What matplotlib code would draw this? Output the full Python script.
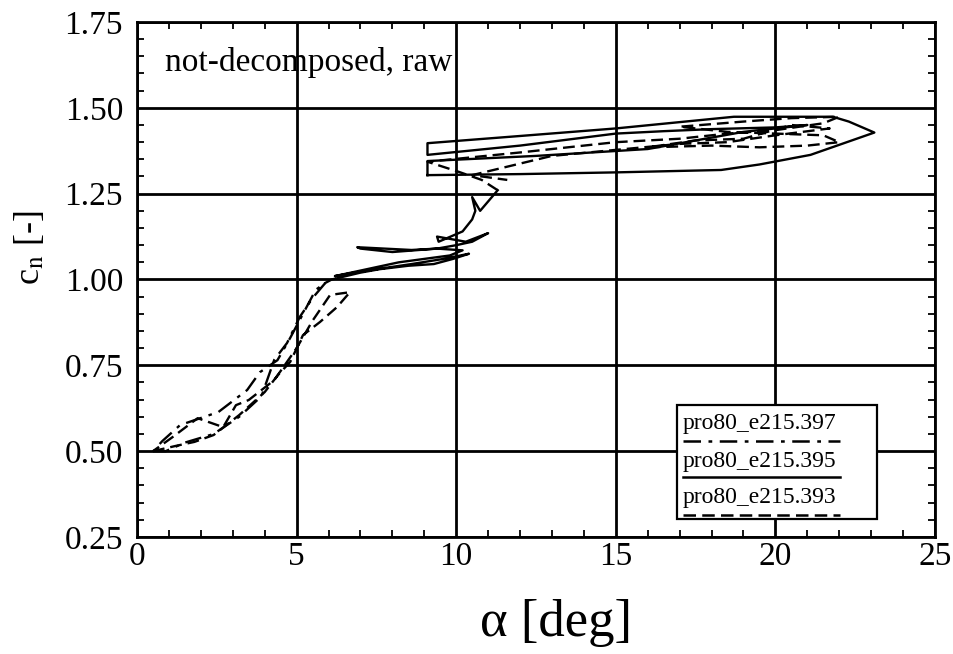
import matplotlib
matplotlib.use("Agg")
import matplotlib.pyplot as plt
from matplotlib.ticker import MultipleLocator
from matplotlib.lines import Line2D
from matplotlib.patches import Rectangle

plt.rcParams['font.family'] = ['Liberation Serif', 'DejaVu Serif']
plt.rcParams['mathtext.fontset'] = 'stix'

# ---- data ----
# pro80_e215.397 (dash-dot), low-angle loop
alpha_397 = [0.5, 0.9, 1.5, 2.4, 3.2, 3.9, 4.3, 4.7, 5.1, 5.5, 5.9,
             5.6, 5.2, 4.8, 4.4, 3.85, 3.45, 2.55, 1.35, 0.8, 0.6]
cn_397 = [0.50, 0.50, 0.525, 0.55, 0.60, 0.66, 0.766, 0.815, 0.891, 0.946, 0.99,
          0.97, 0.90, 0.83, 0.765, 0.73, 0.678, 0.614, 0.576, 0.53, 0.51]

# pro80_e215.395 (solid), mid-angle loops
alpha_395 = [5.9, 6.1, 7.0, 7.6, 8.5, 9.3, 9.9, 10.4, 9.6, 8.6, 7.5, 6.8, 6.2,
             7.2, 8.2, 9.0, 9.8, 10.2, 9.4, 8.0, 7.0, 6.9, 8.6, 9.4, 10.0,
             10.5, 11.0, 10.3, 9.4, 9.45, 10.2, 10.5, 10.6, 10.5, 10.75, 11.3]
cn_395 = [0.99, 1.00, 1.02, 1.03, 1.04, 1.045, 1.06, 1.075, 1.06, 1.045, 1.03, 1.02, 1.01,
          1.03, 1.05, 1.06, 1.07, 1.085, 1.09, 1.08, 1.09, 1.094, 1.086, 1.09, 1.10,
          1.11, 1.135, 1.11, 1.125, 1.11, 1.14, 1.175, 1.20, 1.24, 1.20, 1.26]
# pro80_e215.395 (solid), post-stall loop
alpha_395_hi = [9.1, 12.0, 15.0, 18.3, 19.5, 21.1, 23.1, 22.3, 21.8, 18.7, 15.0, 12.0,
                9.1, 9.1, 12.0, 15.0, 16.5, 18.0, 20.0, 21.0, 19.0, 16.0, 12.5, 9.1, 9.1]
cn_395_hi = [1.304, 1.307, 1.312, 1.319, 1.335, 1.363, 1.428, 1.46, 1.474, 1.474, 1.44, 1.418,
             1.397, 1.363, 1.39, 1.425, 1.432, 1.438, 1.443, 1.45, 1.43, 1.38, 1.36, 1.345, 1.304]

# pro80_e215.393 (dashed), low-angle loop
alpha_393 = [0.5, 1.2, 1.8, 2.4, 3.2, 4.0, 4.4, 4.8, 5.2, 5.73, 6.27, 6.67,
             6.05, 5.5, 5.0, 4.3, 3.5, 3.1, 2.7, 1.9, 1.1, 0.5]
cn_393 = [0.50, 0.515, 0.527, 0.547, 0.605, 0.672, 0.72, 0.76, 0.838, 0.876, 0.92, 0.963,
          0.955, 0.88, 0.80, 0.707, 0.649, 0.634, 0.57, 0.596, 0.54, 0.50]
# pro80_e215.393 (dashed), stall and post-stall loops
alpha_393_hi = [11.3, 10.8, 10.1, 9.1, 12.0, 15.0, 17.0, 18.5, 20.0, 21.5, 22.0, 20.5,
                19.0, 17.0, 18.5, 20.0, 21.5, 22.0, 21.0, 19.5, 18.0, 16.0, 17.5,
                19.0, 20.5, 21.7, 20.0, 18.5, 17.0, 13.0, 10.5, 11.6]
cn_393_hi = [1.26, 1.29, 1.313, 1.343, 1.37, 1.40, 1.41, 1.425, 1.435, 1.455, 1.474, 1.47,
             1.46, 1.445, 1.43, 1.425, 1.42, 1.40, 1.39, 1.385, 1.39, 1.385, 1.405,
             1.41, 1.45, 1.44, 1.42, 1.40, 1.395, 1.36, 1.304, 1.29]

labels = ["pro80_e215.397", "pro80_e215.395", "pro80_e215.393"]
xticks = [0, 5, 10, 15, 20, 25]
yticks = [0.25, 0.50, 0.75, 1.00, 1.25, 1.50, 1.75]

# ---- figure ----
fig = plt.figure(figsize=(9.54, 6.54), dpi=100)
ax = fig.add_axes([137/954, 1-537/654, (935-137)/954, (537-22)/654])

dashdot = (0, (7, 3, 1.5, 3))
dashed = (0, (5, 2.5))
lw = 1.7
ax.plot(alpha_397, cn_397, color='black', lw=lw, linestyle=dashdot)
ax.plot(alpha_393, cn_393, color='black', lw=lw, linestyle=dashed)
ax.plot(alpha_393_hi, cn_393_hi, color='black', lw=lw, linestyle=dashed)
ax.plot(alpha_395, cn_395, color='black', lw=lw, linestyle='-')
ax.plot(alpha_395_hi, cn_395_hi, color='black', lw=lw, linestyle='-')

ax.set_xlim(0, 25)
ax.set_ylim(0.25, 1.75)
ax.set_xticks(xticks)
ax.set_xticklabels([str(v) for v in xticks])
ax.set_yticks(yticks)
ax.set_yticklabels([f"{v:.2f}" for v in yticks])
ax.xaxis.set_minor_locator(MultipleLocator(1))
ax.yaxis.set_minor_locator(MultipleLocator(0.05))
ax.grid(which='major', color='black', lw=2.0)
ax.tick_params(which='both', direction='in', top=True, right=True, labelsize=24,
               width=1.3, colors='black')
ax.tick_params(axis='x', which='major', length=0, pad=3)
ax.tick_params(axis='y', which='major', length=0, pad=10)
ax.tick_params(which='minor', length=5)
for s in ax.spines.values():
    s.set_linewidth(2.0)

ax.set_xlabel("α [deg]", fontsize=38)
ax.xaxis.set_label_coords(0.525, -0.12)
ax.set_ylabel(r"c$_\mathrm{n}$ [-]", fontsize=26)
ax.yaxis.set_label_coords(-0.113, 0.563)

ax.text(0.035, 0.922, "not-decomposed, raw", transform=ax.transAxes,
        fontsize=24, ha='left', va='center')

# ---- legend box ----
x0, x1 = (677-137)/798, (877-137)/798
y0, y1 = (537-519)/515, (537-405)/515
ax.add_patch(Rectangle((x0, y0), x1-x0, y1-y0, transform=ax.transAxes,
                       facecolor='white', edgecolor='black', lw=1.6, zorder=5))
tx = (683-137)/798
lx1 = (840-137)/798
text_y = [(537-424)/515, (537-461)/515, (537-498)/515]
line_y = [(537-441)/515, (537-477)/515, (537-515)/515]
styles = [dashdot, '-', dashed]
for lab, ty, ly, st in zip(labels, text_y, line_y, styles):
    ax.text(tx, ty, lab, transform=ax.transAxes, fontsize=17, ha='left',
            va='center', zorder=6)
    ax.add_line(Line2D([tx, lx1], [ly, ly], transform=ax.transAxes,
                       color='black', lw=1.8, linestyle=st, zorder=6))

fig.savefig("out.png", dpi=100)
